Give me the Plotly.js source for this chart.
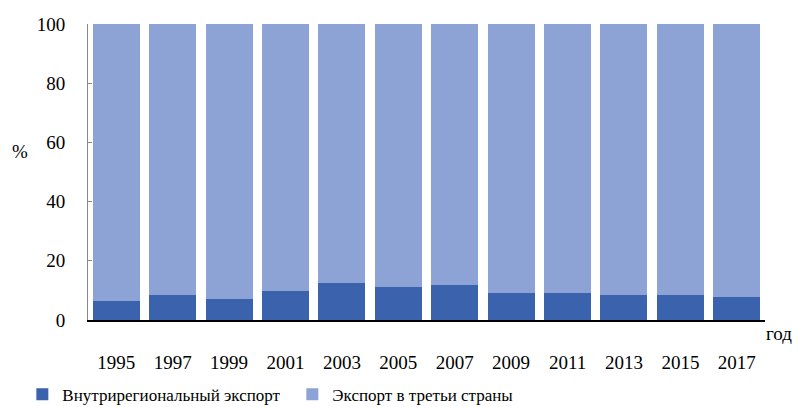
<!DOCTYPE html>
<html><head><meta charset="utf-8">
<script src="https://cdn.plot.ly/plotly-3.0.1.min.js"></script>
<style>body{margin:0;background:#fff}#c{width:798px;height:407px}</style>
</head><body><div id="c"></div>
<script>
const years = ['1995','1997','1999','2001','2003','2005','2007','2009','2011','2013','2015','2017'];
const intraRegional = [6.4, 8.4, 7.1, 9.8, 12.5, 11.1, 11.8, 9.1, 9.1, 8.4, 8.4, 7.8];
const thirdCountries = intraRegional.map(v => +(100 - v).toFixed(1));
const seriesNames = ['Внутрирегиональный экспорт', 'Экспорт в третьи страны'];
const yTicks = [0, 20, 40, 60, 80, 100];

const fam = '"Liberation Serif", serif';
const font = {family: fam, size: 19, color: '#000'};

const data = [
  {type: 'bar', x: years, y: intraRegional, name: seriesNames[0], marker: {color: '#3b63ad'}},
  {type: 'bar', x: years, y: thirdCountries, name: seriesNames[1], marker: {color: '#8ea3d5'}}
];

const layout = {
  width: 798, height: 407,
  margin: {l: 88, r: 33, t: 24, b: 87, autoexpand: false},
  barmode: 'stack', bargap: 0.167,
  paper_bgcolor: '#fff', plot_bgcolor: '#fff',
  font: font,
  showlegend: true,
  legend: {orientation: 'h', x: 0.028, xanchor: 'left', xref: 'container', y: 0.03, yanchor: 'middle', yref: 'container',
           font: {family: fam, size: 17, color: '#000'},
           entrywidth: 225, entrywidthmode: 'pixels', traceorder: 'normal'},
  xaxis: {type: 'category', tickvals: years, ticktext: years, showline: true, linecolor: '#000', linewidth: 2,
          ticks: '', ticklabelstandoff: 24, tickfont: font, showgrid: false, zeroline: false},
  yaxis: {range: [0, 100], tickvals: yTicks, showline: true, linecolor: '#888', linewidth: 1,
          ticks: 'inside', ticklen: 4, tickcolor: '#888', ticklabelstandoff: 18, tickfont: font,
          showgrid: false, zeroline: false},
  annotations: [
    {text: '%', xref: 'paper', yref: 'paper', x: -0.1, y: 0.57, xanchor: 'center', yanchor: 'middle', showarrow: false, font: font},
    {text: 'год', xref: 'paper', yref: 'paper', x: 1.02, y: -0.045, xanchor: 'center', yanchor: 'middle', showarrow: false, font: font}
  ]
};
Plotly.newPlot('c', data, layout, {displayModeBar: false, staticPlot: true}).then(() => {
  document.querySelectorAll('#c text').forEach(t => { t.style.fontFamily = '"Liberation Serif", serif'; });
});
</script></body></html>
